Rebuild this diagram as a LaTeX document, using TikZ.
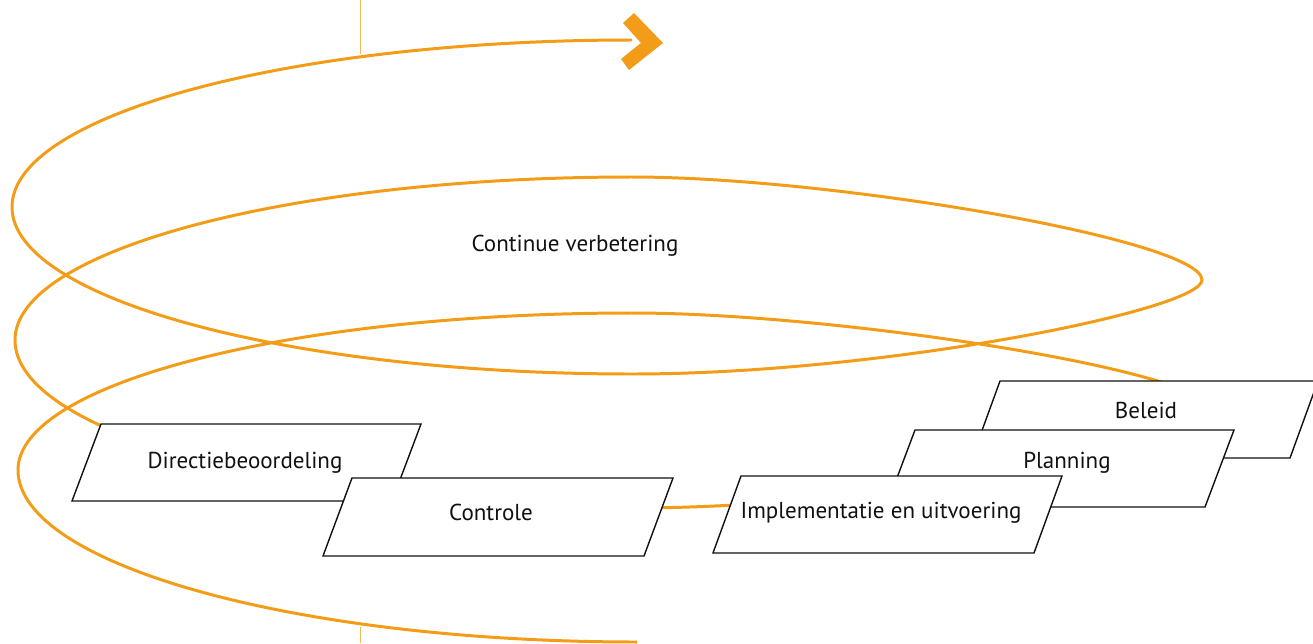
\documentclass[tikz,border=0pt]{standalone}
\usepackage{fontspec}
\setmainfont{PT Sans}
\usetikzlibrary{arrows.meta}
\definecolor{CycleOrange}{HTML}{F39C17}
\definecolor{CycleGuide}{HTML}{F7B955}
\definecolor{CycleInk}{HTML}{111111}

\begin{document}
\begin{tikzpicture}[x=0.02cm,y=-0.02cm,
  spiral/.style={CycleOrange,line width=1.7pt},
  stepbox/.style={draw=CycleInk,line width=0.8pt,fill=white},
  steplabel/.style={anchor=base,inner sep=0pt,text=CycleInk,
    font=\fontsize{13.1}{15}\selectfont}]
  \clip (0,0) rectangle (1313,643);

  % thin guide lines
  \draw[CycleGuide,line width=0.5pt] (360,0) -- (360,54);
  \draw[CycleGuide,line width=0.5pt] (360,627) -- (360,643);

  % spiral, from the bottom upwards
  \coordinate (S) at (637,642);
  \coordinate (L1) at (18,470);
  \coordinate (T1) at (632,313);
  \coordinate (R1) at (1215,412);
  \coordinate (B1) at (632,508);
  \coordinate (L2) at (15,340);
  \coordinate (T2) at (632,177);
  \coordinate (R2) at (1202,280);
  \coordinate (B2) at (632,374);
  \coordinate (L3) at (12,207);
  \coordinate (E) at (632,40);
  \draw[spiral] (S)
    .. controls (294,642) and (18,564) .. (L1)
    .. controls (18,383) and (293,313) .. (T1)
    .. controls (840,313) and (1215,372) .. (R1)
    .. controls (1215,447) and (882,508) .. (B1)
    .. controls (291,508) and (15,433) .. (L2)
    .. controls (15,250) and (291,177) .. (T2)
    .. controls (832,177) and (1202,240) .. (R2)
    .. controls (1202,310) and (882,374) .. (B2)
    .. controls (290,374) and (12,299) .. (L3)
    .. controls (12,115) and (289,40) .. (E);
  \coordinate (tip) at (663,43);
  \fill[CycleOrange] (623,23) -- (634,13) -- (tip) -- (629,70) -- (621,59) -- (641,43) -- cycle;

  \node[steplabel] (cycle) at (575,251) {Continue verbetering};

  % steps, back to front
  \draw[stepbox] (972,458) -- (1000,381) -- (1318,381) -- (1290,458) -- cycle;
  \node[steplabel] (policy) at (1146,418) {Beleid};
  \draw[stepbox] (886,507) -- (915,430) -- (1234,430) -- (1205,507) -- cycle;
  \node[steplabel] (planning) at (1067,468) {Planning};
  \draw[stepbox] (713,553) -- (741,476) -- (1062,476) -- (1034,553) -- cycle;
  \node[steplabel] (implementation) at (881,518) {Implementatie en uitvoering};
  \draw[stepbox] (72,501) -- (101,424) -- (421,424) -- (392,501) -- cycle;
  \node[steplabel] (review) at (245,468) {Directiebeoordeling};
  \draw[stepbox] (323,556) -- (352,478) -- (673,478) -- (644,556) -- cycle;
  \node[steplabel] (control) at (491,520) {Controle};
\end{tikzpicture}
\end{document}
